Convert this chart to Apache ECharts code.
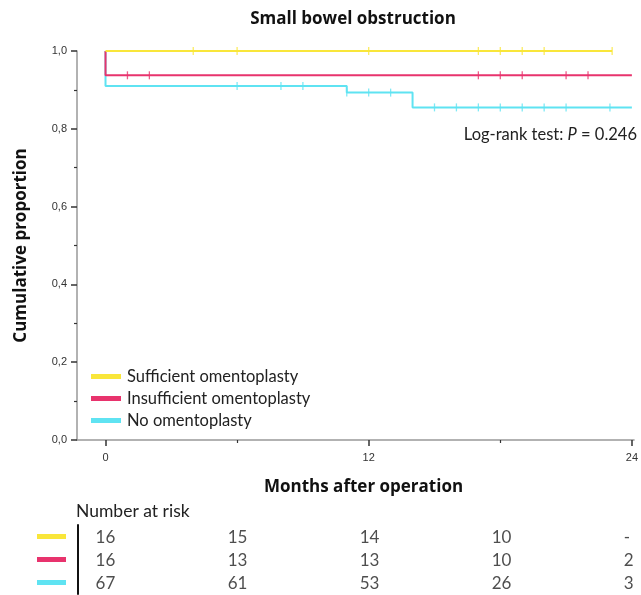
<!DOCTYPE html>
<html>
<head>
<meta charset="utf-8">
<script src="https://cdn.jsdelivr.net/npm/echarts@6/dist/echarts.min.js"></script>
<style>html,body{margin:0;padding:0;background:#fff}#c{width:641px;height:595px}</style>
</head>
<body>
<div id="c"></div>
<script>
// ---- data ----
var groupNames = ['Sufficient omentoplasty', 'Insufficient omentoplasty', 'No omentoplasty'];
var colors = ['#F9E63A', '#E8336D', '#5FE3F2'];
var suffTimes = [0, 23.1];
var suffSurv = [1.0, 1.0];
var insuffTimes = [0, 0, 24];
var insuffSurv = [1.0, 0.9375, 0.9375];
var noneTimes = [0, 0, 11, 14, 24];
var noneSurv = [1.0, 0.910, 0.893, 0.855, 0.855];
var suffCensor = [4, 6, 12, 17, 18, 19, 20, 23.1];
var insuffCensor = [1, 2, 17, 18, 19, 21, 22];
var noneCensor = [6, 8, 9, 11, 12, 13, 15, 16, 17, 18, 19, 20, 21, 23];
var xTickLabels = [0, 12, 24];
var xMinorTicks = [6, 18];
var riskTimes = [0, 6, 12, 18, 24];
var riskSuff = ['16', '15', '14', '10', '-'];
var riskInsuff = ['16', '13', '13', '10', '2'];
var riskNone = ['67', '61', '53', '26', '3'];
var pValueText = '0.246';

// ---- build ----
function pairs(t, s) { return t.map(function (v, i) { return [v, s[i]]; }); }
function survAt(t, s, x) {
  var y = s[0];
  for (var i = 0; i < t.length; i++) { if (t[i] <= x) y = s[i]; }
  return y;
}
function censorPts(ct, t, s) { return ct.map(function (x) { return [x, survAt(t, s, x)]; }); }

var kmT = [suffTimes, insuffTimes, noneTimes];
var kmS = [suffSurv, insuffSurv, noneSurv];
var cens = [suffCensor, insuffCensor, noneCensor];
var risks = [riskSuff, riskInsuff, riskNone];

var series = [];
for (var g = 0; g < 3; g++) {
  series.push({
    name: groupNames[g], type: 'line', step: 'end', xAxisIndex: 0, yAxisIndex: 0,
    data: pairs(kmT[g], kmS[g]), showSymbol: false, symbol: 'none',
    lineStyle: { color: colors[g], width: 2 }, itemStyle: { color: colors[g] },
    z: 3 - g + 2, animation: false
  });
  series.push({
    name: groupNames[g], type: 'scatter', xAxisIndex: 0, yAxisIndex: 0,
    data: censorPts(cens[g], kmT[g], kmS[g]), symbol: 'rect', symbolSize: [1.3, 8],
    itemStyle: { color: colors[g] }, z: 3 - g + 2, animation: false, silent: true
  });
  series.push({
    type: 'scatter', xAxisIndex: 2, yAxisIndex: 1,
    data: riskTimes.map(function (t, i) { return [t, g, risks[g][i]]; }),
    symbolSize: 0, silent: true, animation: false,
    label: {
      show: true, position: 'inside', align: 'left', offset: [-11, 1],
      formatter: function (p) { return p.value[2]; },
      fontFamily: 'Lato', fontSize: 17, color: '#222'
    }
  });
}

var chart = echarts.init(document.getElementById('c'), null, { renderer: 'canvas' });
chart.setOption({
  animation: false,
  backgroundColor: '#fff',
  title: [
    { text: 'Small bowel obstruction', left: 348, top: 6, textAlign: 'center',
      textStyle: { fontFamily: 'Open Sans', fontWeight: 'bold', fontSize: 17, color: '#111' } },
    { text: 'Number at risk', left: 71, top: 497,
      textStyle: { fontFamily: 'Lato', fontWeight: 'normal', fontSize: 17.5, color: '#222' } }
  ],
  legend: {
    data: groupNames, orient: 'vertical', left: 86, top: 363, icon: 'rect',
    itemWidth: 30, itemHeight: 5, itemGap: 5,
    textStyle: { fontFamily: 'Lato', fontSize: 16.5, color: '#222', lineHeight: 17, padding: [0, 0, 0, 1] },
    selectedMode: false
  },
  grid: [
    { left: 77, right: 4, top: 51, height: 389 },
    { left: 78, right: 4, top: 525, height: 69 }
  ],
  xAxis: [
    { type: 'value', gridIndex: 0, min: -1.3, max: 24.1,
      name: 'Months after operation', nameLocation: 'middle', nameGap: 39,
      nameTextStyle: { fontFamily: 'Open Sans', fontWeight: 'bold', fontSize: 17, color: '#111', padding: [0, 0, 0, 16] },
      axisLine: { show: true, onZero: false, lineStyle: { color: '#999', width: 1.5 } },
      axisTick: { show: true, customValues: xTickLabels, length: 6, lineStyle: { color: '#333', width: 1.5 } },
      axisLabel: { show: true, customValues: xTickLabels, margin: 12, fontFamily: 'Liberation Sans', fontSize: 11, color: '#333' },
      splitLine: { show: false } },
    { type: 'value', gridIndex: 0, min: -1.3, max: 24.1, position: 'bottom',
      axisLine: { show: false, onZero: false },
      axisTick: { show: true, customValues: xMinorTicks, length: 3, lineStyle: { color: '#333', width: 1.2 } },
      axisLabel: { show: false }, splitLine: { show: false } },
    { type: 'value', gridIndex: 1, min: -1.3, max: 24.1, show: false }
  ],
  yAxis: [
    { type: 'value', gridIndex: 0, min: 0, max: 1, interval: 0.2,
      name: 'Cumulative proportion', nameLocation: 'middle', nameGap: 47,
      nameTextStyle: { fontFamily: 'Open Sans', fontWeight: 'bold', fontSize: 17, color: '#111' },
      axisLine: { show: true, onZero: false, lineStyle: { color: '#999', width: 1.5 } },
      axisTick: { show: true, length: 6, lineStyle: { color: '#333', width: 1.5 } },
      minorTick: { show: true, splitNumber: 2, length: 3, lineStyle: { color: '#333', width: 1.2 } },
      axisLabel: { margin: 10, fontFamily: 'Liberation Sans', fontSize: 11, color: '#333',
        formatter: function (v) { return v.toFixed(1).replace('.', ','); } },
      splitLine: { show: false } },
    { type: 'category', gridIndex: 1, data: ['0', '1', '2'], inverse: true,
      axisLine: { show: true, onZero: false, lineStyle: { color: '#111', width: 2 } },
      axisTick: { show: false },
      axisLabel: { margin: 12,
        formatter: function (v) { return '{c' + v + '| }'; },
        rich: {
          c0: { backgroundColor: colors[0], width: 29, height: 5 },
          c1: { backgroundColor: colors[1], width: 29, height: 5 },
          c2: { backgroundColor: colors[2], width: 29, height: 5 }
        } } }
  ],
  graphic: [
    { type: 'text', right: 4, top: 126,
      style: { text: '{n|Log-rank test: }{i|P}{n| = ' + pValueText + '}', align: 'right',
        rich: {
          n: { fontFamily: 'Lato', fontSize: 16.5, fill: '#222' },
          i: { fontFamily: 'Lato', fontSize: 16.5, fontStyle: 'italic', fill: '#222' }
        } } }
  ],
  series: series
});
</script>
</body>
</html>
